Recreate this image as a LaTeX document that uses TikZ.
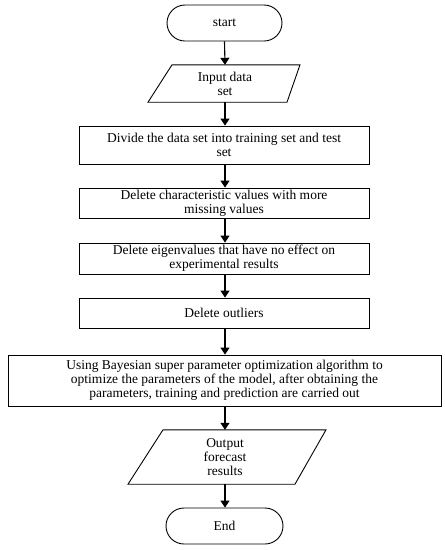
\documentclass[tikz,border=0pt]{standalone}
\usepackage{fontspec}
\setmainfont{Liberation Serif}
\usetikzlibrary{arrows.meta,calc}
\begin{document}
\begin{tikzpicture}[x=1pt,y=-1pt,
  every node/.style={font=\fontsize{13.5}{14}\selectfont, align=center, inner sep=0pt},
  box/.style={draw, line width=0.9pt, minimum width=290pt},
  term/.style={draw, line width=0.9pt, rounded corners=18pt, minimum height=36pt},
  io/.style={minimum height=#1},
  arr/.style={line width=1.1pt, -{Triangle[length=7pt,width=9pt]}},
  shp/.style={line width=0.9pt}]
\useasboundingbox (0,0) rectangle (445,550);
\node[term, minimum width=115pt] (start) at (224.5,23) {start};
\node[io=37pt, minimum width=100pt] (in) at (225,83.5) {Input data\\set};
\draw[shp] ($(in.north)+(-53,0)$) -- ($(in.north)+(75,0)$) -- ($(in.south)+(62,0)$) -- ($(in.south)+(-77,0)$) -- cycle;
\node[box, minimum height=38pt] (d1) at (224,145) {Divide the data set into training set and test\\set};
\node[box, minimum height=30pt] (d2) at (224,203) {Delete characteristic values with more\\missing values};
\node[box, minimum height=31pt] (d3) at (224,258.5) {Delete eigenvalues that have no effect on\\experimental results};
\node[box, minimum height=30pt] (d4) at (224,313) {Delete outliers};
\node[box, minimum width=433pt, minimum height=51pt] (d5) at (224.5,380.5) {Using Bayesian super parameter optimization algorithm to\\optimize the parameters of the model, after obtaining the\\parameters, training and prediction are carried out};
\node[io=54pt, minimum width=100pt] (out) at (225,457) {Output\\forecast\\results};
\draw[shp] ($(out.north)+(-62,0)$) -- ($(out.north)+(101,0)$) -- ($(out.south)+(70,0)$) -- ($(out.south)+(-97,0)$) -- cycle;
\node[term, minimum width=117pt] (end) at (224.5,526) {End};
\draw[arr] (start.south) -- (in.north);
\draw[arr] (in.south) -- (in.south |- d1.north);
\draw[arr] (d1.south -| in.south) -- (in.south |- d2.north);
\draw[arr] (d2.south -| in.south) -- (in.south |- d3.north);
\draw[arr] (d3.south -| in.south) -- (in.south |- d4.north);
\draw[arr] (d4.south -| in.south) -- (in.south |- d5.north);
\draw[arr] (d5.south -| in.south) -- (out.north);
\draw[arr] (out.south) -- (end.north -| out.south);
\end{tikzpicture}
\end{document}
